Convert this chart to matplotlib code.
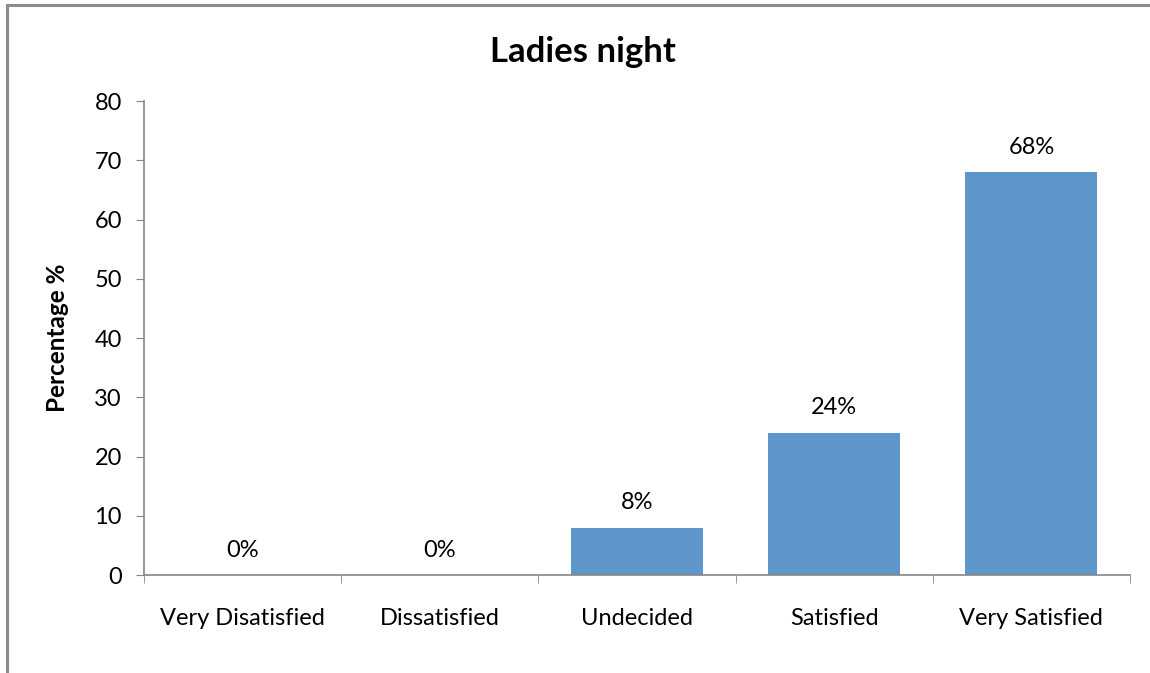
import matplotlib.pyplot as plt
from matplotlib.patches import Rectangle

categories = ['Very Disatisfied', 'Dissatisfied', 'Undecided', 'Satisfied', 'Very Satisfied']
percentages = [0, 0, 8, 24, 68]
bar_labels = ['0%', '0%', '8%', '24%', '68%']

plt.rcParams['font.family'] = ['Lato', 'DejaVu Sans']

fig = plt.figure(figsize=(11.5, 6.73), dpi=100)
ax = fig.add_axes([0.1252, 0.1456, 0.8574, 0.7043])

grey = '#868686'
x = range(len(categories))
ax.bar(x, percentages, width=0.67, color='#5f96c9')
for xi, v, lab in zip(x, percentages, bar_labels):
    ax.annotate(lab, (xi, v), xytext=(0, 18), textcoords='offset points',
                ha='center', va='center', fontsize=17)

ax.set_xlim(-0.5, len(categories) - 0.5)
ax.set_ylim(0, 80)
ax.set_yticks(range(0, 81, 10))
ax.set_xticks(x)
ax.set_xticklabels(categories, fontsize=17)
ax.set_xticks([i - 0.5 for i in range(len(categories) + 1)], minor=True)
ax.tick_params(axis='x', which='major', length=0, pad=24)
ax.tick_params(axis='x', which='minor', length=6, color=grey, direction='out')
ax.tick_params(axis='y', length=6, color=grey, labelsize=17, pad=10)

for side in ['top', 'right']:
    ax.spines[side].set_visible(False)
for side in ['left', 'bottom']:
    ax.spines[side].set_color(grey)
    ax.spines[side].set_linewidth(1.2)

ax.set_ylabel('Percentage %', fontsize=17.5, fontweight='bold', labelpad=18)
fig.text(0.5065, 0.923, 'Ladies night', ha='center', va='center',
         fontsize=25, fontweight='bold')

# chart border (cut off at right and bottom like the source)
fig.patches.append(Rectangle((7 / 1150, -0.1), 1.2, 1.1 - 5 / 673,
                             transform=fig.transFigure, fill=False,
                             edgecolor='#8c8c8c', linewidth=2.2))

fig.savefig('out.png', dpi=100)
